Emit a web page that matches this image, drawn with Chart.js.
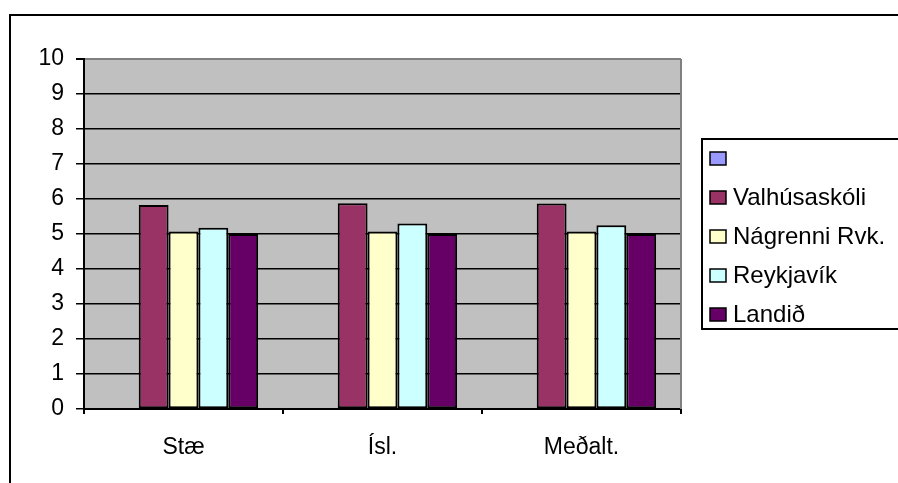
<!DOCTYPE html>
<html>
<head>
<meta charset="utf-8">
<script src="https://cdn.jsdelivr.net/npm/chart.js@4"></script>
<style>
  html, body { margin: 0; padding: 0; background: #fff; }
  canvas { display: block; }
</style>
</head>
<body>
<canvas id="chart" width="898" height="483"></canvas>
<script>
// --- DATA ---
const categories = ["Stæ", "Ísl.", "Meðalt."];
const seriesNames = ["", "Valhúsaskóli", "Nágrenni Rvk.", "Reykjavík", "Landið"];
const blankValues = [null, null, null];
const valhusValues = [5.83, 5.88, 5.87];
const nagrenniValues = [5.07, 5.07, 5.07];
const reykjavikValues = [5.18, 5.3, 5.25];
const landidValues = [5.0, 5.0, 5.0];
const yTicks = [0, 1, 2, 3, 4, 5, 6, 7, 8, 9, 10];

const colors = ["#9999FF", "#993366", "#FFFFCC", "#CCFFFF", "#660066"];
const FONT = "'Liberation Sans', Arial, sans-serif";

function ds(i, values) {
  return {
    label: seriesNames[i],
    data: values,
    backgroundColor: colors[i],
    borderColor: "#000",
    borderWidth: 2,
    borderSkipped: false,
    categoryPercentage: 0.75,
    barPercentage: 1.0
  };
}

// --- FRAME, PLOT BACKGROUND, LEGEND ---
const framePlugin = {
  id: "frame",
  beforeDraw(chart) {
    const { ctx, chartArea: a } = chart;
    ctx.save();
    ctx.fillStyle = "#C0C0C0";
    ctx.fillRect(a.left, a.top, a.right - a.left, a.bottom - a.top);
    // outer border (only top/left visible)
    ctx.strokeStyle = "#000";
    ctx.lineWidth = 2;
    ctx.beginPath();
    ctx.moveTo(10, 483);
    ctx.lineTo(10, 15);
    ctx.lineTo(898, 15);
    ctx.stroke();
    ctx.restore();
  },
  afterDraw(chart) {
    const { ctx, chartArea: a } = chart;
    ctx.save();
    // plot area right border
    ctx.strokeStyle = "#808080";
    ctx.lineWidth = 2;
    ctx.beginPath();
    ctx.moveTo(a.right, a.top);
    ctx.lineTo(a.right, a.bottom);
    ctx.stroke();

    // legend
    ctx.strokeStyle = "#000";
    ctx.lineWidth = 2;
    ctx.strokeRect(702, 139, 220, 190);
    ctx.font = "24px " + FONT;
    ctx.textBaseline = "middle";
    ctx.textAlign = "left";
    chart.data.datasets.forEach((d, i) => {
      const cy = 158 + i * 39;
      ctx.fillStyle = d.backgroundColor;
      ctx.fillRect(710, cy - 6, 16, 13);
      ctx.lineWidth = 1.5;
      ctx.strokeRect(710, cy - 6, 16, 13);
      ctx.fillStyle = "#000";
      ctx.fillText(d.label, 733, cy + 1);
    });
    ctx.restore();
  }
};

new Chart(document.getElementById("chart"), {
  type: "bar",
  data: {
    labels: categories,
    datasets: [
      ds(0, blankValues),
      ds(1, valhusValues),
      ds(2, nagrenniValues),
      ds(3, reykjavikValues),
      ds(4, landidValues)
    ]
  },
  options: {
    responsive: false,
    animation: false,
    layout: { padding: { left: 0, top: 59, right: 217, bottom: 0 } },
    plugins: {
      legend: { display: false },
      tooltip: { enabled: false }
    },
    scales: {
      x: {
        offset: true,
        grid: {
          offset: true,
          drawOnChartArea: false,
          tickLength: 5,
          color: "#000",
          lineWidth: 2
        },
        border: { color: "#000", width: 2 },
        ticks: {
          color: "#000",
          font: { family: FONT, size: 23 },
          padding: 20,
          maxRotation: 0
        },
        afterFit(scale) { scale.height = 74; }
      },
      y: {
        min: 0,
        max: 10,
        afterBuildTicks(scale) {
          scale.ticks = yTicks.map(v => ({ value: v }));
        },
        grid: {
          color: c => (c.tick && c.tick.value === 10 ? "#808080" : "#000"),
          lineWidth: c => (c.tick && c.tick.value === 10 ? 2 : 1.5),
          tickLength: 8,
          tickColor: "#000"
        },
        border: { color: "#000", width: 2 },
        ticks: {
          color: "#000",
          font: { family: FONT, size: 23 },
          padding: 12
        },
        afterFit(scale) { scale.width = 84; }
      }
    }
  },
  plugins: [framePlugin]
});
</script>
</body>
</html>
